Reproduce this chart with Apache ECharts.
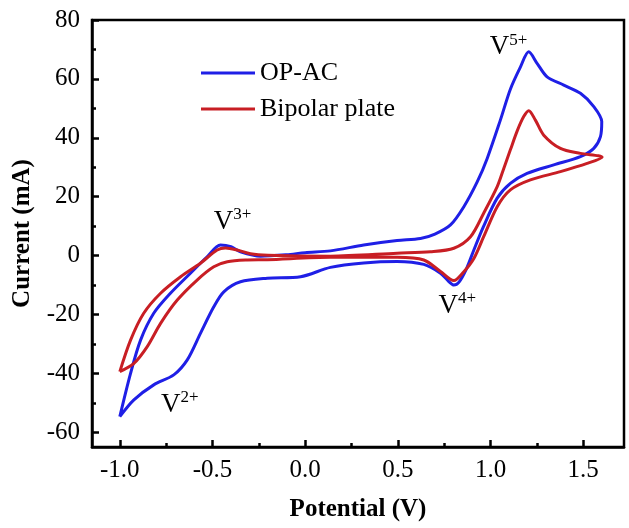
<!DOCTYPE html>
<html>
<head>
<meta charset="utf-8">
<script src="https://cdn.jsdelivr.net/npm/echarts@6/dist/echarts.min.js"></script>
<style>
  html, body { margin: 0; padding: 0; background: #fff; }
  #chart { width: 629px; height: 528px; }
</style>
</head>
<body>
<div id="chart"></div>
<script>
// CV curves, [potential (V), current (mA)]
const opAc = [
  [-1.0, -54.7], [-0.942, -40.0], [-0.888, -28.7], [-0.817, -19.6], [-0.727, -12.8],
  [-0.619, -6.0], [-0.529, -0.4], [-0.457, 3.6], [-0.40, 3.0], [-0.349, 1.3],
  [-0.241, -0.2], [-0.1, 0.3], [0.0, 1.0], [0.136, 1.6], [0.316, 3.6], [0.496, 5.1],
  [0.622, 5.8], [0.700, 7.3], [0.784, 10.4], [0.856, 16.6], [0.928, 25.0],
  [0.982, 33.0], [1.053, 46.0], [1.107, 56.5], [1.161, 64.0], [1.206, 69.2],
  [1.251, 65.3], [1.305, 60.7], [1.395, 57.9], [1.485, 55.1], [1.557, 50.6],
  [1.600, 45.5], [1.593, 40.4], [1.557, 36.4], [1.485, 33.6], [1.341, 30.8],
  [1.197, 27.9], [1.107, 24.5], [1.036, 19.5], [0.963, 10.0], [0.910, 1.9],
  [0.870, -4.5], [0.830, -9.0], [0.802, -10.0], [0.775, -8.8], [0.730, -6.0],
  [0.640, -3.0], [0.496, -2.0], [0.316, -2.5], [0.136, -4.0], [-0.025, -7.2],
  [-0.205, -7.7], [-0.349, -8.9], [-0.439, -12.3], [-0.493, -17.4], [-0.565, -26.4],
  [-0.636, -35.4], [-0.709, -40.5], [-0.817, -43.9], [-0.924, -49.0], [-1.0, -54.7]
];

const bipolar = [
  [-1.0, -39.4], [-0.942, -28.7], [-0.871, -19.6], [-0.780, -12.8], [-0.672, -7.2],
  [-0.565, -2.6], [-0.475, 1.9], [-0.430, 2.6], [-0.367, 1.9], [-0.295, 0.6],
  [-0.2, 0.1], [0.136, -0.2], [0.496, 0.8], [0.676, 1.3], [0.802, 2.5],
  [0.892, 6.4], [0.963, 14.4], [1.036, 23.4], [1.071, 29.5], [1.107, 35.9],
  [1.145, 42.5], [1.179, 47.2], [1.206, 49.2], [1.242, 46.0], [1.287, 40.9],
  [1.377, 36.4], [1.485, 34.7], [1.602, 33.4], [1.521, 31.3], [1.377, 28.5],
  [1.215, 25.7], [1.107, 22.3], [1.036, 16.6], [0.963, 6.4], [0.910, -1.0],
  [0.856, -5.5], [0.802, -8.5], [0.730, -5.4], [0.640, -1.5], [0.496, -0.6],
  [0.136, -0.6], [-0.205, -1.4], [-0.313, -1.5], [-0.420, -2.1], [-0.493, -3.8],
  [-0.583, -8.3], [-0.690, -15.1], [-0.780, -23.0], [-0.852, -30.9], [-0.924, -36.6],
  [-1.0, -39.4]
];

const xTicks = [-1.0, -0.5, 0.0, 0.5, 1.0, 1.5];
const xMinor = [-0.75, -0.25, 0.25, 0.75, 1.25];
const yTicks = [-60, -40, -20, 0, 20, 40, 60, 80];
const yMinor = [-50, -30, -10, 10, 30, 50, 70];

// peak labels: [x, y, charge]
const peakLabels = [
  [-0.392, 11.4, '3+'],
  [1.097, 70.8, '5+'],
  [0.821, -17.1, '4+'],
  [-0.677, -50.7, '2+']
];

const font = "'Liberation Serif', 'Times New Roman', serif";
const chart = echarts.init(document.getElementById('chart'));

const tickStyle = { color: '#000', width: 2.5 };

const option = {
  animation: false,
  grid: {
    left: 92, top: 20, right: 5, bottom: 81,
    show: true, borderColor: '#000', borderWidth: 2.5
  },
  legend: {
    left: 196, top: 55, orient: 'vertical',
    itemGap: 10, itemWidth: 54, itemHeight: 3, itemTextGap: 3, icon: 'rect',
    textStyle: { fontFamily: font, fontSize: 26, color: '#000' },
    data: ['OP-AC', 'Bipolar plate']
  },
  xAxis: [
    {
      type: 'value', min: -1.15, max: 1.72, splitLine: { show: false },
      axisLine: { show: true, onZero: false, lineStyle: tickStyle },
      name: 'Potential (V)', nameLocation: 'middle', nameGap: 50,
      nameTextStyle: { fontFamily: font, fontSize: 25, fontWeight: 'bold', color: '#000' },
      axisTick: { show: true, inside: true, length: 7, customValues: xTicks, lineStyle: tickStyle },
      axisLabel: { customValues: xTicks, margin: 11, fontFamily: font, fontSize: 25, color: '#000',
        formatter: v => v.toFixed(1) }
    },
    {
      type: 'value', min: -1.15, max: 1.72, position: 'bottom', splitLine: { show: false },
      axisLine: { show: false, onZero: false },
      axisTick: { show: true, inside: true, length: 4, customValues: xMinor, lineStyle: tickStyle },
      axisLabel: { show: false }
    }
  ],
  yAxis: [
    {
      type: 'value', min: -65, max: 80, splitLine: { show: false },
      axisLine: { show: true, onZero: false, lineStyle: tickStyle },
      name: 'Current (mA)', nameLocation: 'middle', nameGap: 57, nameRotate: 90,
      nameTextStyle: { fontFamily: font, fontSize: 25, fontWeight: 'bold', color: '#000' },
      axisTick: { show: true, inside: true, length: 7, customValues: yTicks, lineStyle: tickStyle },
      axisLabel: { customValues: yTicks, margin: 12, fontFamily: font, fontSize: 25, color: '#000' }
    },
    {
      type: 'value', min: -65, max: 80, position: 'left', splitLine: { show: false },
      axisLine: { show: false, onZero: false },
      axisTick: { show: true, inside: true, length: 4, customValues: yMinor, lineStyle: tickStyle },
      axisLabel: { show: false }
    }
  ],
  series: [
    {
      name: 'OP-AC', type: 'line', data: opAc, smooth: 0.3,
      showSymbol: false, symbol: 'none', color: '#1f1fe6',
      lineStyle: { width: 3, color: '#1f1fe6' },
      markPoint: {
        symbol: 'circle', symbolSize: 0,
        label: {
          show: true, position: 'inside',
          formatter: p => '{v|V}{s|' + p.name + '}',
          rich: {
            v: { fontFamily: font, fontSize: 27, color: '#000' },
            s: { fontFamily: font, fontSize: 17, color: '#000', padding: [0, 0, 14, 0] }
          }
        },
        data: peakLabels.map(d => ({ name: d[2], coord: [d[0], d[1]] }))
      }
    },
    {
      name: 'Bipolar plate', type: 'line', data: bipolar, smooth: 0.3,
      showSymbol: false, symbol: 'none', color: '#c81e24',
      lineStyle: { width: 3, color: '#c81e24' }
    }
  ]
};

chart.setOption(option);
</script>
</body>
</html>
